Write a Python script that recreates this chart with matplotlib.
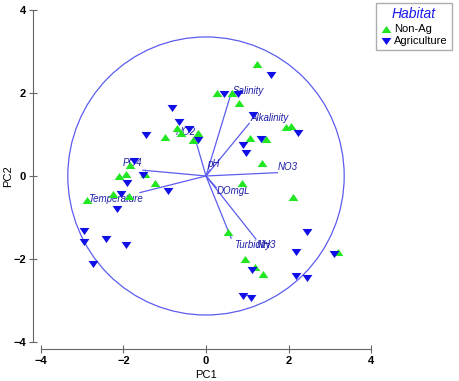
import numpy as np
import matplotlib.pyplot as plt
from matplotlib.patches import Circle

plt.rcParams['font.family'] = ['Liberation Sans', 'DejaVu Sans']

# sample scores
nonag_pc1 = [-0.71, -0.61, -0.19, -0.32, -1.00, -1.84, -2.10, -1.94, -1.48, -1.24,
             -2.25, -1.86, -2.88, 1.23, 0.27, 0.62, 0.80, 1.94, 2.05, 1.07,
             1.45, 1.35, 0.87, 2.10, 0.53, 3.21, 0.95, 1.19, 1.37]
nonag_pc2 = [1.15, 1.03, 1.03, 0.87, 0.94, 0.26, 0.01, 0.05, 0.05, -0.18,
             -0.43, -0.48, -0.58, 2.71, 2.01, 1.99, 1.75, 1.19, 1.20, 0.92,
             0.88, 0.31, -0.16, -0.50, -1.36, -1.82, -2.00, -2.20, -2.36]

agri_pc1 = [-0.82, -0.65, -0.41, -0.19, -1.46, -1.74, -1.92, -1.52, -0.93, -2.07,
            -2.16, -2.95, -2.96, -2.42, -1.94, -2.73, 1.57, 0.44, 0.77, 1.15,
            2.24, 1.33, 0.90, 0.96, 2.44, 2.18, 3.11, 1.12, 2.18, 2.46, 0.89, 1.09]
agri_pc2 = [1.65, 1.30, 1.13, 0.87, 0.98, 0.36, -0.16, 0.02, -0.35, -0.43,
            -0.80, -1.32, -1.60, -1.52, -1.66, -2.12, 2.43, 1.97, 1.97, 1.48,
            1.03, 0.88, 0.75, 0.56, -1.34, -1.82, -1.88, -2.26, -2.42, -2.46, -2.88, -2.94]

# variable vectors
var_names = ['Salinity', 'Alkalinity', 'NO3', 'pH', 'NO2', 'PO4',
             'Temperature', 'DOmgL', 'Turbidity', 'NH3']
vec_x = [0.62, 1.05, 1.73, 0.10, -0.24, -1.53, -1.60, 0.25, 0.61, 1.21]
vec_y = [2.03, 1.27, 0.08, 0.15, 0.82, 0.14, -0.40, -0.28, -1.50, -1.52]
lab_x = [0.65, 1.07, 1.75, 0.03, -0.73, -2.01, -2.86, 0.27, 0.68, 1.24]
lab_y = [2.04, 1.39, 0.22, 0.29, 1.07, 0.31, -0.55, -0.36, -1.66, -1.66]

circle_r = 3.35

line_col = '#5c5cf0'
text_col = '#1e1ea8'
up_tri = [(-1, -0.72), (1, -0.72), (0, 0.72)]
down_tri = [(-1, 0.72), (1, 0.72), (0, -0.72)]

fig = plt.figure(figsize=(4.59, 3.81), dpi=100)
ax = fig.add_axes([0.0893, 0.1024, 0.719, 0.8714])

ax.add_patch(Circle((0, 0), circle_r, fill=False, color=line_col, lw=0.9))
for vx, vy in zip(vec_x, vec_y):
    ax.plot([0, vx], [0, vy], color=line_col, lw=0.9)
for name, tx, ty in zip(var_names, lab_x, lab_y):
    ax.text(tx, ty, name, color=text_col, fontsize=7, style='italic',
            ha='left', va='center')

ax.scatter(nonag_pc1, nonag_pc2, marker=up_tri, s=50, color='#22e622', lw=0,
           label='Non-Ag', zorder=3)
ax.scatter(agri_pc1, agri_pc2, marker=down_tri, s=50, color='#1010e6', lw=0,
           label='Agriculture', zorder=3)

ax.set_xlim(-4, 4)
ax.set_ylim(-4, 4)
ax.set_xticks([-4, -2, 0, 2, 4])
ax.set_yticks([-4, -2, 0, 2, 4])
for s in ['top', 'right']:
    ax.spines[s].set_visible(False)
ax.spines['left'].set_position(('outward', 6))
ax.spines['bottom'].set_position(('outward', 5))
ax.spines['left'].set_bounds(-4, 4)
ax.spines['bottom'].set_bounds(-4, 4)
for s in ['left', 'bottom']:
    ax.spines[s].set_color('#666666')
ax.tick_params(direction='inout', length=5.5, color='#666666', labelsize=8, pad=2)
for lbl in ax.get_xticklabels() + ax.get_yticklabels():
    lbl.set_fontweight('bold')
ax.set_xlabel('PC1', fontsize=8)
ax.set_ylabel('PC2', fontsize=8)
ax.xaxis.set_label_coords(0.5, -0.084)
ax.yaxis.set_label_coords(-0.1, 0.5)
ax.yaxis.label.set_va('center')

leg = ax.legend(loc='upper right', bbox_to_anchor=(452 / 459, 1 - 3 / 381),
                bbox_transform=fig.transFigure, borderaxespad=0, fontsize=8,
                title='Habitat', fancybox=False, edgecolor='#999999',
                handletextpad=0.2, handlelength=1.0, borderpad=0.4,
                labelspacing=0.2)
leg.get_title().set_color('#1a1aee')
leg.get_title().set_fontstyle('italic')
leg.get_title().set_fontsize(10)

fig.savefig('out.png', dpi=100)
